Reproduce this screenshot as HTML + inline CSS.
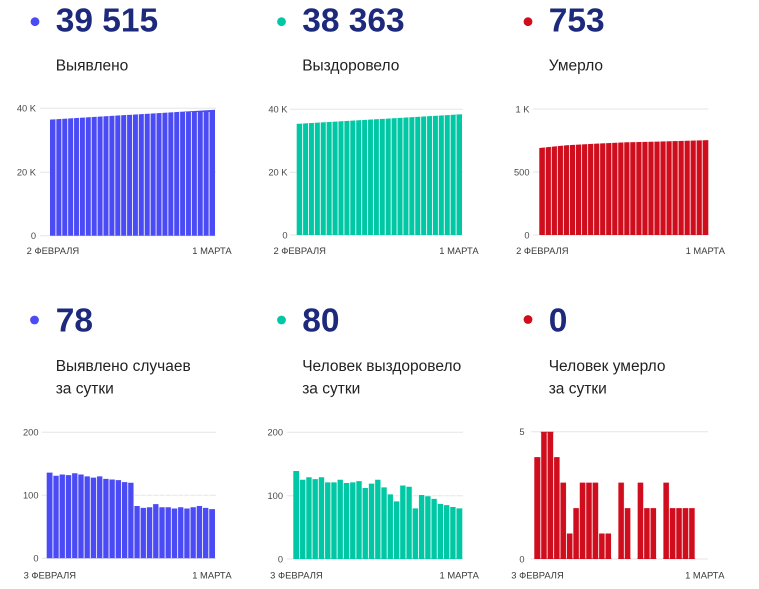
<!DOCTYPE html>
<html>
<head>
<meta charset="utf-8">
<style>
html,body{margin:0;padding:0;background:#fff;}
svg{display:block;}
text{font-family:"Liberation Sans","DejaVu Sans",sans-serif;}
.num{font-weight:bold;font-size:33.5px;fill:#1d2a7c;}
.lab{font-size:15.5px;fill:#222;}
.ax{font-size:9.3px;fill:#4a4a4a;}
.dt{font-size:9.4px;fill:#3a3a3a;text-anchor:middle;}
.grid{stroke:#e6e6e6;stroke-width:1;}
</style>
</head>
<body>
<svg width="759" height="589" viewBox="0 0 759 589" xmlns="http://www.w3.org/2000/svg">
<defs>
<path id="g28" vector-effect="non-scaling-stroke" d="M1 0V1M2 0V1M3 0V1M4 0V1M5 0V1M6 0V1M7 0V1M8 0V1M9 0V1M10 0V1M11 0V1M12 0V1M13 0V1M14 0V1M15 0V1M16 0V1M17 0V1M18 0V1M19 0V1M20 0V1M21 0V1M22 0V1M23 0V1M24 0V1M25 0V1M26 0V1M27 0V1"/>
<path id="g27" vector-effect="non-scaling-stroke" d="M1 0V1M2 0V1M3 0V1M4 0V1M5 0V1M6 0V1M7 0V1M8 0V1M9 0V1M10 0V1M11 0V1M12 0V1M13 0V1M14 0V1M15 0V1M16 0V1M17 0V1M18 0V1M19 0V1M20 0V1M21 0V1M22 0V1M23 0V1M24 0V1M25 0V1M26 0V1"/>
</defs>

<!-- ===== Headers top ===== -->
<circle cx="35" cy="21.7" r="4.4" fill="#4b4bf5"/>
<text class="num" x="55.7" y="31.7">39 515</text>
<text class="lab" x="55.7" y="70.7">Выявлено</text>

<circle cx="281.5" cy="21.7" r="4.4" fill="#00c8a5"/>
<text class="num" x="302.2" y="31.7">38 363</text>
<text class="lab" x="302.2" y="70.7">Выздоровело</text>

<circle cx="528" cy="21.7" r="4.4" fill="#d00d1d"/>
<text class="num" x="548.7" y="31.7">753</text>
<text class="lab" x="548.7" y="70.7">Умерло</text>

<!-- ===== Headers bottom ===== -->
<circle cx="34.5" cy="320" r="4.4" fill="#4b4bf5"/>
<text class="num" x="55.7" y="331.5">78</text>
<text class="lab" x="55.7" y="371">Выявлено случаев</text>
<text class="lab" x="55.7" y="393.3">за сутки</text>

<circle cx="281.5" cy="320" r="4.4" fill="#00c8a5"/>
<text class="num" x="302.2" y="331.5">80</text>
<text class="lab" x="302.2" y="371">Человек выздоровело</text>
<text class="lab" x="302.2" y="393.3">за сутки</text>

<circle cx="528" cy="319.5" r="4.4" fill="#d00d1d"/>
<text class="num" x="548.7" y="331.5">0</text>
<text class="lab" x="548.7" y="371">Человек умерло</text>
<text class="lab" x="548.7" y="393.3">за сутки</text>

<!-- ===== Chart TL ===== -->
<line class="grid" x1="40" y1="108.3" x2="216" y2="108.3"/>
<line class="grid" x1="40" y1="172.3" x2="216" y2="172.3"/>
<line class="grid" x1="40" y1="235.7" x2="216" y2="235.7"/>
<text class="ax" x="36" y="111.6" text-anchor="end">40 K</text>
<text class="ax" x="36" y="175.6" text-anchor="end">20 K</text>
<text class="ax" x="36" y="239" text-anchor="end">0</text>
<path transform="translate(50,235.7) scale(5.893,-0.003185)" fill="#4b4bf5" d="M0 0V36450L28 39560V0Z"/>
<use href="#g28" transform="translate(50,112) scale(5.893,123.5)" stroke="#fff" stroke-width="1" stroke-opacity="0.85"/>
<text class="dt" x="52.9" y="254">2 ФЕВРАЛЯ</text>
<text class="dt" x="212" y="254">1 МАРТА</text>

<!-- ===== Chart TM ===== -->
<line class="grid" x1="290" y1="109.3" x2="463" y2="109.3"/>
<line class="grid" x1="290" y1="172.2" x2="463" y2="172.2"/>
<line class="grid" x1="290" y1="235" x2="463" y2="235"/>
<text class="ax" x="287.5" y="112.6" text-anchor="end">40 K</text>
<text class="ax" x="287.5" y="175.5" text-anchor="end">20 K</text>
<text class="ax" x="287.5" y="238.3" text-anchor="end">0</text>
<path transform="translate(296.7,235) scale(5.904,-0.0031425)" fill="#00c8a5" d="M0 0V35350L28 38420V0Z"/>
<use href="#g28" transform="translate(296.7,115) scale(5.904,119.8)" stroke="#fff" stroke-width="1" stroke-opacity="0.85"/>
<text class="dt" x="299.7" y="254">2 ФЕВРАЛЯ</text>
<text class="dt" x="459" y="254">1 МАРТА</text>

<!-- ===== Chart TR ===== -->
<line class="grid" x1="533" y1="109" x2="708.5" y2="109"/>
<line class="grid" x1="533" y1="172" x2="708.5" y2="172"/>
<line class="grid" x1="533" y1="235" x2="708.5" y2="235"/>
<text class="ax" x="529.5" y="112.3" text-anchor="end">1 K</text>
<text class="ax" x="529.5" y="175.3" text-anchor="end">500</text>
<text class="ax" x="529.5" y="238.3" text-anchor="end">0</text>
<path transform="translate(539.3,235) scale(6.036,-0.126)" fill="#d00d1d" d="M0 0V690L4.5 712L9.5 725L14.5 736L19.5 741L28 753V0Z"/>
<use href="#g28" transform="translate(539.3,137) scale(6.036,97.8)" stroke="#fff" stroke-width="1" stroke-opacity="0.8"/>
<text class="dt" x="542.3" y="254">2 ФЕВРАЛЯ</text>
<text class="dt" x="705.3" y="254">1 МАРТА</text>

<!-- ===== Chart BL ===== -->
<line class="grid" x1="41.7" y1="432.3" x2="216" y2="432.3"/>
<line class="grid" x1="41.7" y1="495.3" x2="216" y2="495.3"/>
<line class="grid" x1="41.7" y1="558.3" x2="216" y2="558.3"/>
<text class="ax" x="38.5" y="435.6" text-anchor="end">200</text>
<text class="ax" x="38.5" y="498.6" text-anchor="end">100</text>
<text class="ax" x="38.5" y="561.6" text-anchor="end">0</text>
<path transform="translate(46.7,558.3) scale(6.233,-0.63)" fill="#4b4bf5" d="M0 0V136H1V131H2V133H3V132H4V135H5V133H6V130H7V128H8V130H9V126H10V125H11V124H12V121H13V120H14V83H15V80H16V81H17V86H18V81H19V81H20V79H21V81H22V79H23V81H24V83H25V80H26V78H27V0Z"/>
<use href="#g27" transform="translate(46.7,466) scale(6.233,92)" stroke="#fff" stroke-width="1" stroke-opacity="0.85"/>
<text class="dt" x="49.8" y="578.3">3 ФЕВРАЛЯ</text>
<text class="dt" x="211.9" y="578.3">1 МАРТА</text>

<!-- ===== Chart BM ===== -->
<line class="grid" x1="286.7" y1="432.3" x2="463" y2="432.3"/>
<line class="grid" x1="286.7" y1="495.7" x2="463" y2="495.7"/>
<line class="grid" x1="286.7" y1="559" x2="463" y2="559"/>
<text class="ax" x="283" y="435.6" text-anchor="end">200</text>
<text class="ax" x="283" y="499" text-anchor="end">100</text>
<text class="ax" x="283" y="562.3" text-anchor="end">0</text>
<path transform="translate(293.3,559) scale(6.259,-0.6335)" fill="#00c8a5" d="M0 0V139H1V125H2V129H3V126H4V129H5V121H6V121H7V125H8V120H9V121H10V123H11V112H12V119H13V125H14V113H15V102H16V91H17V116H18V114H19V80H20V101H21V99H22V95H23V87H24V85H25V82H26V80H27V0Z"/>
<use href="#g27" transform="translate(293.3,465) scale(6.259,93.5)" stroke="#fff" stroke-width="1" stroke-opacity="0.85"/>
<text class="dt" x="296.4" y="578.3">3 ФЕВРАЛЯ</text>
<text class="dt" x="459.2" y="578.3">1 МАРТА</text>

<!-- ===== Chart BR ===== -->
<line class="grid" x1="531" y1="431.7" x2="708" y2="431.7"/>
<line class="grid" x1="531" y1="559" x2="708" y2="559"/>
<text class="ax" x="524.5" y="435" text-anchor="end">5</text>
<text class="ax" x="524.5" y="562.3" text-anchor="end">0</text>
<path transform="translate(534.3,559) scale(6.433,-25.46)" fill="#d00d1d" d="M0 0V4H1V5H3V4H4V3H5V1H6V2H7V3H10V1H12V0H13V3H14V2H15V0H16V3H17V2H19V0H20V3H21V2H25V0Z"/>
<use href="#g27" transform="translate(534.3,432.5) scale(6.433,126)" stroke="#fff" stroke-width="1" stroke-opacity="0.85"/>
<text class="dt" x="537.5" y="578.3">3 ФЕВРАЛЯ</text>
<text class="dt" x="704.8" y="578.3">1 МАРТА</text>
</svg>
</body>
</html>
